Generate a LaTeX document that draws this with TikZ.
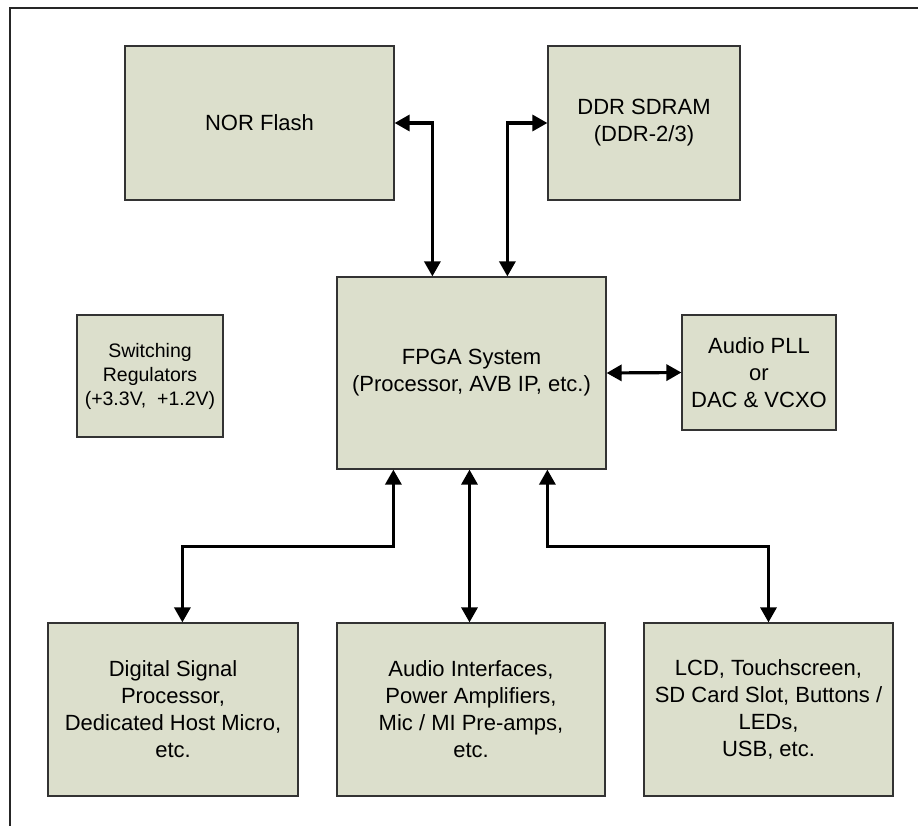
\documentclass[tikz,border=0pt]{standalone}
\usepackage{fontspec}
\setmainfont{Liberation Sans}
\usetikzlibrary{arrows.meta}
\definecolor{boxfill}{RGB}{220,223,204}
\begin{document}
\begin{tikzpicture}[x=1pt,y=-1pt,
  blk/.style={draw=black!80,line width=1.2pt,fill=boxfill,align=center,inner sep=0pt,
    font=\fontsize{22}{27}\selectfont},
  arr/.style={line width=3.2pt,{Triangle[length=15pt,width=16pt]}-{Triangle[length=15pt,width=16pt]}}]
\useasboundingbox (0,0) rectangle (918,826);
\draw[line width=2pt,black!85] (10,826) -- (10,8) -- (918,8);
\node[blk,minimum width=269pt,minimum height=154pt] (nor) at (259.5,123) {NOR Flash};
\node[blk,minimum width=192pt,minimum height=154pt] (ddr) at (644,123) {DDR SDRAM\\(DDR-2/3)};
\node[blk,minimum width=269pt,minimum height=192pt] (fpga) at (471.5,373) {FPGA System\\(Processor, AVB IP, etc.)};
\node[blk,minimum width=154pt,minimum height=115pt] (pll) at (759,372.5) {Audio PLL\\or\\DAC \& VCXO};
\node[blk,minimum width=146pt,minimum height=122pt,font=\fontsize{19.5}{24}\selectfont] (sw) at (150,376) {Switching\\Regulators\\(+3.3V,~~+1.2V)};
\node[blk,minimum width=250pt,minimum height=173pt] (dsp) at (173,709.5) {Digital Signal\\Processor,\\Dedicated Host Micro,\\etc.};
\node[blk,minimum width=268pt,minimum height=173pt] (ai) at (471,709.5) {Audio Interfaces,\\Power Amplifiers,\\Mic / MI Pre-amps,\\etc.};
\node[blk,minimum width=249pt,minimum height=173pt] (lcd) at (768.5,709.5) {LCD, Touchscreen,\\SD Card Slot, Buttons /\\LEDs,\\USB, etc.};
\draw[arr] (nor.east) -| ([xshift=96pt]fpga.north west);
\draw[arr] (ddr.west) -| ([xshift=171pt]fpga.north west);
\draw[arr] (fpga.east) -- (pll.west);
\draw[arr] ([xshift=57pt]fpga.south west) -- ++(0,77) -| ([xshift=135pt]dsp.north west);
\draw[arr] ([xshift=-2pt]fpga.south) -- ([xshift=-2pt]fpga.south |- ai.north);
\draw[arr] ([xshift=211pt]fpga.south west) -- ++(0,77) -| (lcd.north);
\end{tikzpicture}
\end{document}
